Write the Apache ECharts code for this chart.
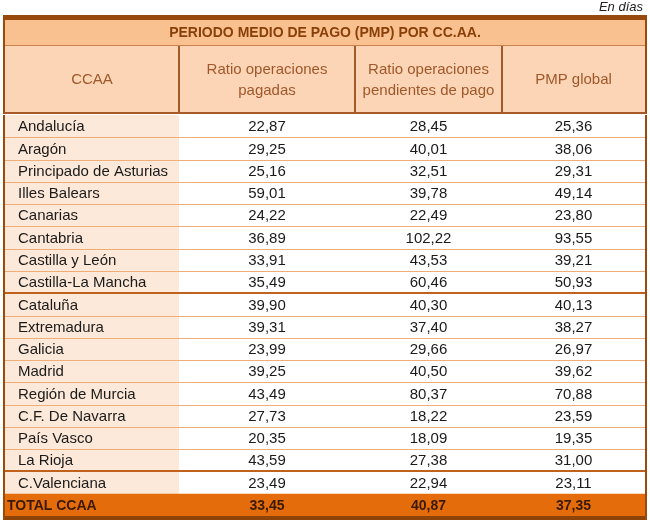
<!DOCTYPE html>
<html>
<head>
<meta charset="utf-8">
<script src="https://cdn.jsdelivr.net/npm/echarts@6/dist/echarts.min.js"></script>
<style>
  html, body { margin: 0; padding: 0; background: #fff; }
  #main { width: 650px; height: 525px; }
</style>
</head>
<body>
<div id="main"></div>
<script>
// datos de la tabla
var tableTitle = 'PERIODO MEDIO DE PAGO (PMP) POR CC.AA.';
var unitNote = 'En días';
var headers = ['CCAA', 'Ratio operaciones\npagadas', 'Ratio operaciones\npendientes de pago', 'PMP global'];
var ccaa = ['Andalucía', 'Aragón', 'Principado de Asturias', 'Illes Balears', 'Canarias', 'Cantabria',
    'Castilla y León', 'Castilla-La Mancha', 'Cataluña', 'Extremadura', 'Galicia', 'Madrid',
    'Región de Murcia', 'C.F. De Navarra', 'País Vasco', 'La Rioja', 'C.Valenciana'];
var ratioPagadas = [22.87, 29.25, 25.16, 59.01, 24.22, 36.89, 33.91, 35.49, 39.90, 39.31, 23.99, 39.25,
    43.49, 27.73, 20.35, 43.59, 23.49];
var ratioPendientes = [28.45, 40.01, 32.51, 39.78, 22.49, 102.22, 43.53, 60.46, 40.30, 37.40, 29.66, 40.50,
    80.37, 18.22, 18.09, 27.38, 22.94];
var pmpGlobal = [25.36, 38.06, 29.31, 49.14, 23.80, 93.55, 39.21, 50.93, 40.13, 38.27, 26.97, 39.62,
    70.88, 23.59, 19.35, 31.00, 23.11];
var totalLabel = 'TOTAL CCAA';
var totalValues = [33.45, 40.87, 37.35];

// disposicion (no son datos)
var colEdges = [0, 174, 350, 497, 640];
var brown = '#9B4A0C';
var font = 'Liberation Sans';

function fmt(v) {
    return v.toFixed(2).replace('.', ',');
}

var rowNames = ccaa.concat([totalLabel]);
var columns = [ccaa, ratioPagadas, ratioPendientes, pmpGlobal];

var bodyData = [];
for (var r = 0; r < rowNames.length; r++) {
    for (var c = 0; c < 4; c++) {
        bodyData.push([c, r]);
    }
}

function cellBox(api, c, r) {
    var p0 = api.coord([colEdges[c], r]);
    var p1 = api.coord([colEdges[c + 1], r]);
    var h = api.size([0, 1])[1];
    return {x: p0[0], y: p0[1] - h / 2, w: p1[0] - p0[0], h: h};
}

function renderBody(params, api) {
    var c = api.value(0), r = api.value(1);
    var b = cellBox(api, c, r);
    var isTotal = r === ccaa.length;
    var fill = isTotal ? '#E46C0A' : (c === 0 ? '#FDE9D9' : '#ffffff');
    var kids = [{type: 'rect', shape: {x: b.x, y: b.y, width: b.w, height: b.h + 0.5}, style: {fill: fill}}];
    if (r > 0 && !isTotal) {
        // linea superior de la fila
        var strong = (r === 8 || r === 16);
        var ly = Math.round(b.y) - (strong ? 1 : 0);
        kids.push({type: 'rect', shape: {x: b.x, y: ly, width: b.w, height: strong ? 2 : 1},
            style: {fill: strong ? '#C0621C' : '#EFAE78'}});
    }
    if (isTotal) {
        kids.push({type: 'rect', shape: {x: b.x, y: b.y + b.h, width: b.w, height: 4}, style: {fill: '#8E4409'}});
    }
    if (r === 0 && c === 0) {
        kids.push({type: 'rect', shape: {x: b.x - 2, y: b.y, width: 2, height: b.h * rowNames.length + 4}, style: {fill: brown}});
    }
    if (r === 0 && c === 3) {
        kids.push({type: 'rect', shape: {x: b.x + b.w, y: b.y, width: 2, height: b.h * rowNames.length + 4}, style: {fill: brown}});
    }
    var txt;
    if (isTotal) {
        txt = c === 0 ? totalLabel : fmt(totalValues[c - 1]);
    } else {
        txt = c === 0 ? ccaa[r] : fmt(columns[c][r]);
    }
    kids.push({
        type: 'text',
        style: {
            x: c === 0 ? (isTotal ? b.x + 2 : b.x + 13) : b.x + b.w / 2,
            y: b.y + b.h / 2 + 1,
            text: txt,
            align: c === 0 ? 'left' : 'center',
            verticalAlign: 'middle',
            fill: isTotal ? '#3A1A02' : '#1a1a1a',
            font: isTotal ? 'bold 14px "' + font + '"' : '15px "' + font + '"'
        }
    });
    return {type: 'group', children: kids};
}

function renderHeader(params, api) {
    var c = api.value(0);
    var b = cellBox(api, c, 0);
    var kids = [{type: 'rect', shape: {x: b.x, y: b.y, width: b.w, height: b.h}, style: {fill: '#FBD5B6'}}];
    if (c > 0) {
        kids.push({type: 'rect', shape: {x: b.x - 1, y: b.y, width: 2, height: b.h}, style: {fill: '#A8592A'}});
    } else {
        kids.push({type: 'rect', shape: {x: b.x - 2, y: b.y, width: 2, height: b.h}, style: {fill: brown}});
    }
    if (c === 3) {
        kids.push({type: 'rect', shape: {x: b.x + b.w, y: b.y, width: 2, height: b.h}, style: {fill: brown}});
    }
    kids.push({type: 'rect', shape: {x: b.x - 1, y: b.y + b.h - 2, width: b.w + 2, height: 2}, style: {fill: '#A8592A'}});
    kids.push({
        type: 'text',
        style: {
            x: b.x + b.w / 2, y: b.y + b.h / 2,
            text: headers[c], align: 'center', verticalAlign: 'middle',
            fill: '#A0582A', font: '15px "' + font + '"', lineHeight: 21
        }
    });
    return {type: 'group', children: kids};
}

function renderTitle(params, api) {
    var p0 = api.coord([colEdges[0], 0]);
    var p1 = api.coord([colEdges[4], 0]);
    var h = api.size([0, 1])[1];
    var x0 = p0[0], w = p1[0] - p0[0], y0 = p0[1] - h / 2;
    return {
        type: 'group',
        children: [
            {type: 'rect', shape: {x: x0 - 2, y: y0, width: w + 4, height: h}, style: {fill: '#FAC190'}},
            {type: 'rect', shape: {x: x0 - 2, y: y0, width: w + 4, height: 5}, style: {fill: '#984A0E'}},
            {type: 'rect', shape: {x: x0 - 2, y: y0, width: 2, height: h}, style: {fill: brown}},
            {type: 'rect', shape: {x: x0 + w, y: y0, width: 2, height: h}, style: {fill: brown}},
            {type: 'rect', shape: {x: x0, y: y0 + h - 1, width: w, height: 1}, style: {fill: '#C9834E'}},
            {type: 'text', style: {x: x0 + w / 2, y: y0 + 5 + (h - 5) / 2, text: tableTitle,
                align: 'center', verticalAlign: 'middle', fill: '#8A3F08', font: 'bold 14px "' + font + '"'}}
        ]
    };
}

function xAx(i) {
    return {type: 'value', gridIndex: i, min: 0, max: 640, show: false};
}
function yAx(i, data) {
    return {type: 'category', gridIndex: i, data: data, inverse: true, show: false};
}

var chart = echarts.init(document.getElementById('main'));
chart.setOption({
    animation: false,
    title: {
        text: unitNote, right: 7, top: 1, padding: 0,
        textStyle: {fontFamily: font, fontStyle: 'italic', fontWeight: 'normal', fontSize: 13, color: '#222'}
    },
    grid: [
        {left: 5, width: 640, top: 15, height: 31},
        {left: 5, width: 640, top: 46, height: 68},
        {left: 5, width: 640, top: 115, height: 401}
    ],
    xAxis: [xAx(0), xAx(1), xAx(2)],
    yAxis: [yAx(0, ['t']), yAx(1, ['h']), yAx(2, rowNames)],
    series: [
        {type: 'custom', xAxisIndex: 0, yAxisIndex: 0, renderItem: renderTitle, data: [[0, 0]]},
        {type: 'custom', xAxisIndex: 1, yAxisIndex: 1, renderItem: renderHeader, data: [[0, 0], [1, 0], [2, 0], [3, 0]]},
        {type: 'custom', xAxisIndex: 2, yAxisIndex: 2, renderItem: renderBody, data: bodyData}
    ]
});
</script>
</body>
</html>
